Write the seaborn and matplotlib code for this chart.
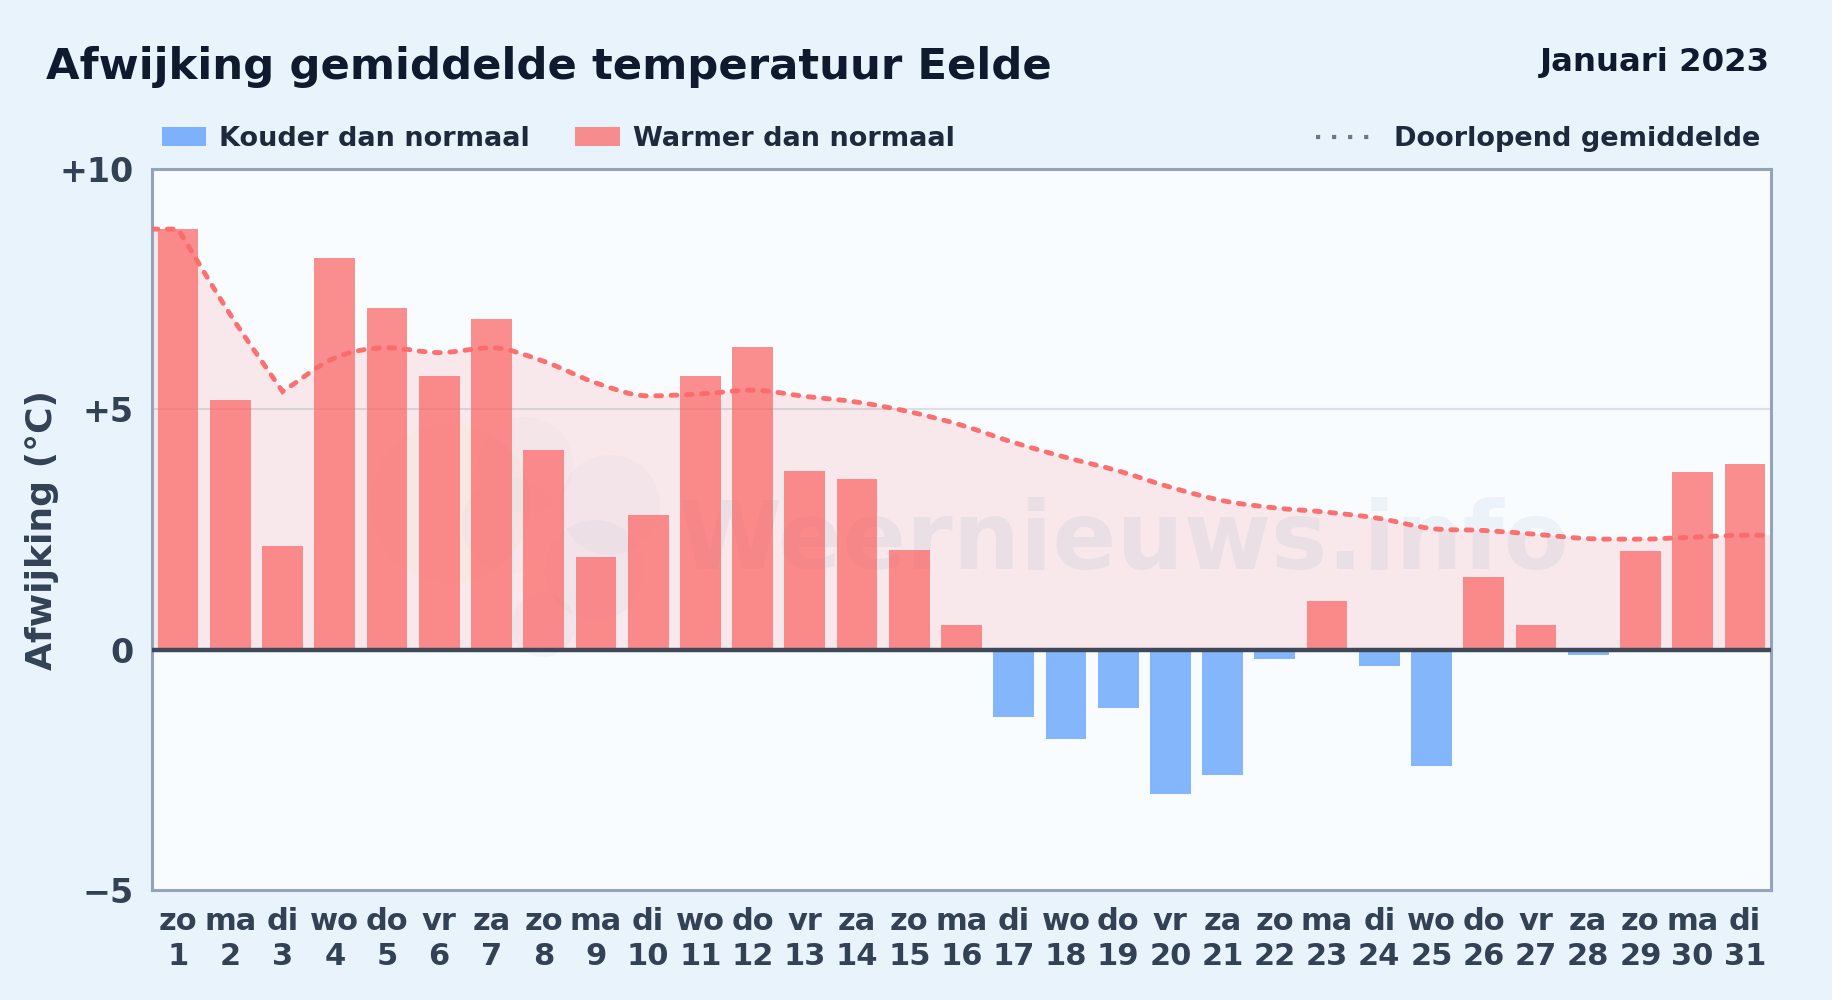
import numpy as np
import pandas as pd
import seaborn as sns
import matplotlib.pyplot as plt
from matplotlib.patches import Patch, PathPatch, Circle
from matplotlib.lines import Line2D
from matplotlib.path import Path

# Waarden
dagen = ['zo', 'ma', 'di', 'wo', 'do', 'vr', 'za', 'zo', 'ma', 'di', 'wo', 'do', 'vr', 'za', 'zo', 'ma',
         'di', 'wo', 'do', 'vr', 'za', 'zo', 'ma', 'di', 'wo', 'do', 'vr', 'za', 'zo', 'ma', 'di']
datums = list(range(1, 32))
afwijking = [8.75, 5.2, 2.16, 8.15, 7.1, 5.69, 6.88, 4.16, 1.92, 2.8, 5.69, 6.3, 3.72, 3.55, 2.07, 0.51,
             -1.41, -1.85, -1.22, -3.0, -2.6, -0.2, 1.02, -0.34, -2.41, 1.51, 0.51, -0.12, 2.05, 3.7, 3.87]
gemiddelde = [8.75, 6.97, 5.37, 6.07, 6.28, 6.18, 6.28, 6.0, 5.55, 5.28, 5.32, 5.4, 5.27, 5.15, 4.95, 4.67,
              4.31, 4.0, 3.72, 3.38, 3.1, 2.95, 2.86, 2.73, 2.52, 2.48, 2.4, 2.31, 2.3, 2.34, 2.38]

KOUD = '#3b8bfa'
WARM = '#fb6a6a'
TEKST = '#334155'
DONKER = '#1e293b'

df = pd.DataFrame({'dag': datums, 'afwijking': afwijking})
df['soort'] = np.where(df['afwijking'] < 0, 'koud', 'warm')
df['as_label'] = [f'{d}\n{n}' for d, n in zip(dagen, datums)]

sns.set_theme(style='white')
plt.rcParams['font.family'] = ['DejaVu Sans']
plt.rcParams['font.weight'] = 'bold'

fig = plt.figure(figsize=(18.32, 10), dpi=100, facecolor='#e8f3fc')
ax = fig.add_axes([152 / 1832, 1 - 890 / 1000, (1771 - 152) / 1832, (890 - 169) / 1000])
ax.set_facecolor('#f8fcff')


def gladde_curve(xs, ys, hoeken=()):
    # bezier door de punten, zonder extra punten toe te voegen
    xs = np.asarray(xs, float)
    ys = np.asarray(ys, float)
    helling = np.gradient(ys, xs)
    for i in range(1, len(xs) - 1):
        if (ys[i] - ys[i - 1]) * (ys[i + 1] - ys[i]) <= 0:
            helling[i] = 0
    uit = helling.copy()
    tot = helling.copy()
    # scherpe knikken: aan beide kanten de eigen richting
    for i in hoeken:
        tot[i] = (ys[i] - ys[i - 1]) / (xs[i] - xs[i - 1])
        uit[i] = (ys[i + 1] - ys[i]) / (xs[i + 1] - xs[i])
    verts = [(xs[0], ys[0])]
    for i in range(len(xs) - 1):
        d = (xs[i + 1] - xs[i]) / 3
        verts.append((xs[i] + d, ys[i] + uit[i] * d))
        verts.append((xs[i + 1] - d, ys[i + 1] - tot[i + 1] * d))
        verts.append((xs[i + 1], ys[i + 1]))
    return verts


lijn_x = [-0.5] + list(range(31)) + [30.5]
lijn_y = [gemiddelde[0]] + gemiddelde + [gemiddelde[-1]]
verts = gladde_curve(lijn_x, lijn_y, hoeken=(1, 3))
codes = [Path.MOVETO] + [Path.CURVE4] * (len(verts) - 1)

# gevuld vlak onder het doorlopend gemiddelde
vlak_verts = [(lijn_x[0], 0)] + verts + [(lijn_x[-1], 0), (lijn_x[0], 0)]
vlak_codes = [Path.MOVETO, Path.LINETO] + [Path.CURVE4] * (len(verts) - 1) + [Path.LINETO, Path.CLOSEPOLY]
ax.add_patch(PathPatch(Path(vlak_verts, vlak_codes), facecolor='#fb6a70', alpha=0.135, lw=0, zorder=1))

# watermerk: zon, wolk en tekst, heel licht
for px, py, r, kleur, a in [(450, 503, 80, '#f5d76e', 0.06),
                            (525, 465, 48, '#7c8fc0', 0.03), (610, 505, 50, '#7c8fc0', 0.04),
                            (510, 525, 48, '#7c8fc0', 0.03), (595, 570, 50, '#7c8fc0', 0.05),
                            (543, 625, 32, '#7c8fc0', 0.05)]:
    ax.add_patch(Circle((px, 1000 - py), r, transform=None, facecolor=kleur, alpha=a, lw=0, zorder=1.4))
ax.text(18.1, 1.68, 'Weernieuws.info', fontsize=68, fontweight='bold', color='#4a6fa5', alpha=0.07,
        ha='center', va='baseline', zorder=1.5)

sns.barplot(data=df, x='dag', y='afwijking', hue='soort', order=datums, hue_order=['koud', 'warm'],
            palette={'koud': KOUD, 'warm': WARM}, dodge=False, width=0.78, saturation=1, linewidth=0,
            legend=False, ax=ax, zorder=2)
for container in ax.containers:
    for balk in container:
        balk.set_alpha(0.62 if balk.get_height() < 0 else 0.75)

ax.add_patch(PathPatch(Path(verts, codes), facecolor='none', edgecolor=WARM, lw=3.5, alpha=0.95,
                       linestyle=(0, (1.2, 1.95)), capstyle='round', zorder=3))

ax.axhline(5, color='#64748b', alpha=0.2, lw=1.5, zorder=1.2)
ax.axhline(0, color='#3d4859', lw=3.2, zorder=4)

ax.set_xlim(-0.5, 30.5)
ax.set_ylim(-5, 10)
ax.set_yticks([-5, 0, 5, 10])
ax.set_yticklabels(['\u22125', '0', '+5', '+10'], fontsize=24, color=TEKST, fontweight='bold')
ax.set_xticks(range(31))
ax.set_xticklabels(df['as_label'], fontsize=22, color=TEKST, fontweight='bold', linespacing=1.27)
ax.tick_params(axis='y', length=0, pad=13)
ax.tick_params(axis='x', length=0, pad=12)
ax.set_xlabel('')
ax.set_ylabel('')
for s in ax.spines.values():
    s.set_color('#94a3b8')
    s.set_linewidth(2.2)

fig.text(42 / 1832, 1 - 530 / 1000, 'Afwijking (°C)', rotation=90, fontsize=26, color=TEKST,
         fontweight='bold', ha='center', va='center')
fig.text(46 / 1832, 1 - 67 / 1000, 'Afwijking gemiddelde temperatuur Eelde', fontsize=31.2, color='#0f1a2e',
         fontweight='bold', ha='left', va='center')
fig.text(1770 / 1832, 1 - 62 / 1000, 'Januari 2023', fontsize=23.3, color='#0f1a2e', fontweight='bold',
         ha='right', va='center')

# legenda links en rechts
handles = [Patch(facecolor=KOUD, alpha=0.62, lw=0), Patch(facecolor=WARM, alpha=0.75, lw=0)]
fig.legend(handles, ['Kouder dan normaal', 'Warmer dan normaal'], loc='center left',
           bbox_to_anchor=(161.5 / 1832, 1 - 139 / 1000), ncol=2, frameon=False, fontsize=19.5, labelcolor=DONKER,
           handlelength=1.64, handleheight=0.7, columnspacing=1.66, handletextpad=0.5, borderpad=0, borderaxespad=0)
fig.legend([Line2D([], [], color='#6b7787', lw=3, linestyle=(0, (1, 2.85)))], ['Doorlopend gemiddelde'],
           loc='center right', bbox_to_anchor=(1760 / 1832, 1 - 139 / 1000), frameon=False, fontsize=19.5,
           labelcolor=DONKER, handlelength=2.03, handletextpad=0.82, borderpad=0, borderaxespad=0)

fig.savefig('out.png', dpi=100, facecolor=fig.get_facecolor())
